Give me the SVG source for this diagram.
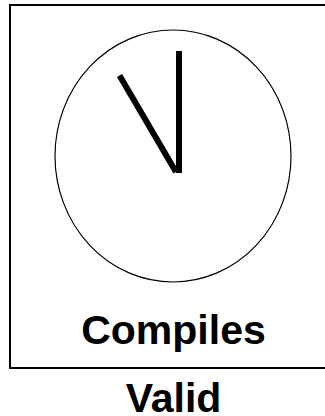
<svg xmlns="http://www.w3.org/2000/svg" width="325" height="416" viewBox="0 0 325 416">
<style>
.lbl{font-family:"Liberation Sans",Arial,sans-serif;font-weight:bold;font-size:41px;fill:#000;text-anchor:middle}
.hand{stroke:#000;stroke-width:6;stroke-linecap:butt}
</style>
<rect width="325" height="416" fill="#fff"/>
<g id="frame">
<rect x="10" y="5" width="330" height="363" fill="none" stroke="#000" stroke-width="2"/>
<text class="lbl" x="173.5" y="344">Compiles</text>
</g>
<g id="clock">
<ellipse cx="173" cy="156" rx="118" ry="126" fill="none" stroke="#000" stroke-width="1.2"/>
<line class="hand" x1="179" y1="51" x2="179" y2="173"/>
<line class="hand" x1="119.5" y1="75.5" x2="176" y2="172"/>
</g>
<g id="caption">
<text class="lbl" x="173.5" y="412">Valid</text>
</g>
</svg>
